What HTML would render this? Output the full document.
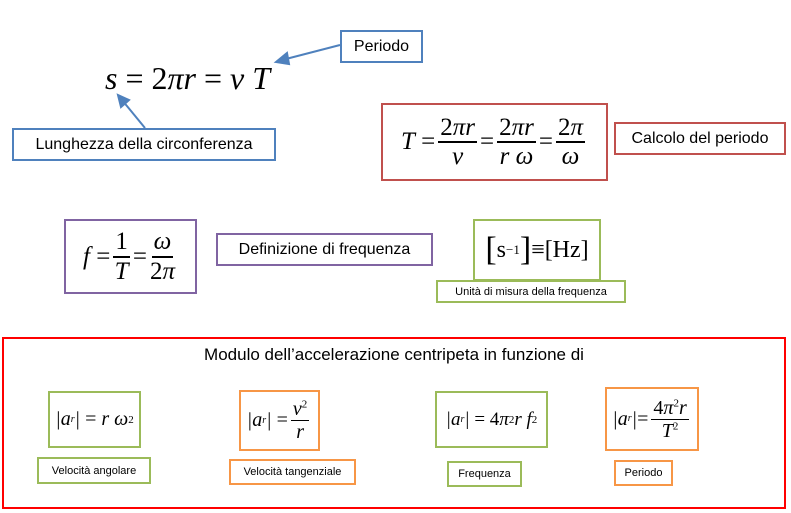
<!DOCTYPE html>
<html><head><meta charset="utf-8">
<style>
body{margin:0;width:791px;height:513px;background:#fff;position:relative;overflow:hidden;font-family:"Liberation Sans",sans-serif;color:#000}
.b{position:absolute;box-sizing:border-box;background:#fff}
.lbl{display:flex;align-items:center;justify-content:center;white-space:nowrap}
.m{font-family:"Liberation Serif",serif;font-style:italic;white-space:nowrap;display:flex;align-items:center;justify-content:center}
.n{font-style:normal}
.fr{display:inline-flex;flex-direction:column;align-items:center;vertical-align:middle;margin:0 3px}
.fr>span{line-height:1.1}
.fr>span:first-child{border-bottom:2px solid #000;padding:0 2px}
.blue{border:2px solid #4f81bd}
.red{border:2px solid #c0504d}
.pur{border:2px solid #8064a2}
.grn{border:2px solid #9bbb59}
.org{border:2px solid #f79646}
.abs{position:absolute}
sub,sup{line-height:0}
</style></head><body>

<div class="abs m" style="left:105px;top:60px;width:175px;height:36px;font-size:32px;justify-content:flex-start">s <span class="n">&nbsp;=&nbsp;2</span>πr<span class="n">&nbsp;=&nbsp;</span>v T</div>

<svg class="abs" style="left:0;top:0" width="791" height="513">
<g stroke="#4f81bd" stroke-width="2" fill="#4f81bd">
<line x1="340" y1="45" x2="282" y2="60"/><polygon points="276,62 287,53 289,64"/>
<line x1="145" y1="128" x2="122" y2="100"/><polygon points="118,95 129,100 121,107"/>
</g></svg>

<div class="b blue lbl" style="left:340px;top:30px;width:83px;height:33px;font-size:16px">Periodo</div>
<div class="b blue lbl" style="left:12px;top:128px;width:264px;height:33px;font-size:16px">Lunghezza della circonferenza</div>

<div class="b red m" style="left:381px;top:103px;width:227px;height:78px;font-size:25px">T<span class="n">&nbsp;=</span><span class="fr"><span><span class="n">2</span>πr</span><span>v</span></span><span class="n">=</span><span class="fr"><span><span class="n">2</span>πr</span><span>r ω</span></span><span class="n">=</span><span class="fr"><span><span class="n">2</span>π</span><span>ω</span></span></div>
<div class="b red lbl" style="left:614px;top:122px;width:172px;height:33px;font-size:16px">Calcolo del periodo</div>

<div class="b pur m" style="left:64px;top:219px;width:133px;height:75px;font-size:25px">f<span class="n">&nbsp;=</span><span class="fr"><span class="n">1</span><span>T</span></span><span class="n">=</span><span class="fr"><span>ω</span><span><span class="n">2</span>π</span></span></div>
<div class="b pur lbl" style="left:216px;top:233px;width:217px;height:33px;font-size:16px">Definizione di frequenza</div>

<div class="b grn m n" style="left:473px;top:219px;width:128px;height:62px;font-size:24px;font-style:normal"><span style="font-size:34px">[</span>s<sup style="font-size:13px">−1</sup><span style="font-size:34px">]</span>≡[Hz]</div>
<div class="b grn lbl" style="left:436px;top:280px;width:190px;height:23px;font-size:11px">Unità di misura della frequenza</div>

<div class="b" style="left:2px;top:337px;width:784px;height:172px;border:2px solid #f00;background:transparent"></div>
<div class="abs lbl" style="left:2px;top:343px;width:784px;height:24px;font-size:17px">Modulo dell’accelerazione centripeta in funzione di</div>

<div class="b grn m" style="left:48px;top:391px;width:93px;height:57px;font-size:20px">|a<sub style="font-size:10px">r</sub>|<span class="n">&nbsp;=&nbsp;</span>r ω<sup class="n" style="font-size:11px">2</sup></div>
<div class="b grn lbl" style="left:37px;top:457px;width:114px;height:27px;font-size:11px">Velocità angolare</div>

<div class="b org m" style="left:239px;top:390px;width:81px;height:61px;font-size:20px">|a<sub style="font-size:10px">r</sub>|<span class="n">&nbsp;=</span><span class="fr"><span style="border-bottom-width:1px">v<sup class="n" style="font-size:11px">2</sup></span><span>r</span></span></div>
<div class="b org lbl" style="left:229px;top:459px;width:127px;height:26px;font-size:11px">Velocità tangenziale</div>

<div class="b grn m" style="left:435px;top:391px;width:113px;height:57px;font-size:19px">|a<sub style="font-size:10px">r</sub>|<span class="n">&nbsp;=&nbsp;4</span>π<sup class="n" style="font-size:11px">2</sup>r f<sup class="n" style="font-size:11px">2</sup></div>
<div class="b grn lbl" style="left:447px;top:461px;width:75px;height:26px;font-size:11px">Frequenza</div>

<div class="b org m" style="left:605px;top:387px;width:94px;height:64px;font-size:20px">|a<sub style="font-size:10px">r</sub>|<span class="n">=</span><span class="fr"><span style="border-bottom-width:1px"><span class="n">4</span>π<sup class="n" style="font-size:11px">2</sup>r</span><span>T<sup class="n" style="font-size:11px">2</sup></span></span></div>
<div class="b org lbl" style="left:614px;top:460px;width:59px;height:26px;font-size:11px">Periodo</div>

</body></html>
